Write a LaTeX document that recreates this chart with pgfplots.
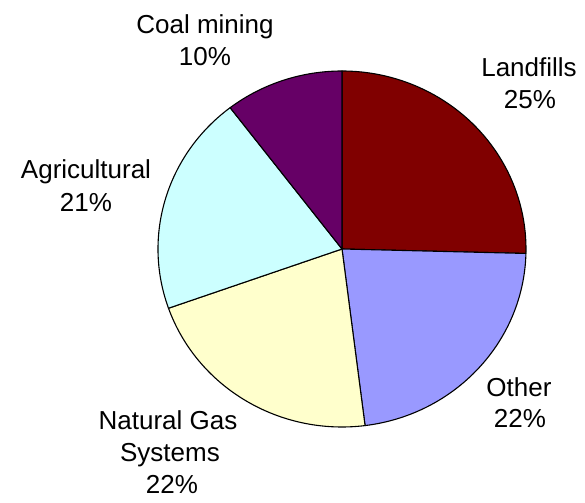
\documentclass[border=0pt]{standalone}
\usepackage{pgfplots}
\pgfplotsset{compat=1.18}
\usepackage{pgfplotstable}
\usepackage{fontspec}
\setmainfont{Liberation Sans}

\definecolor{slice0}{HTML}{800000}
\definecolor{slice1}{HTML}{9999FF}
\definecolor{slice2}{HTML}{FFFFCC}
\definecolor{slice3}{HTML}{CCFFFF}
\definecolor{slice4}{HTML}{660066}

\pgfplotstableread[col sep=comma]{
name,value
Landfills,25.4
Other,22.6
Natural Gas Systems,21.6
Agricultural,20.0
Coal mining,10.4
}\piedata

\begin{document}
\begin{tikzpicture}
\begin{axis}[
  hide axis, scale only axis,
  x=0.5pt, y=0.5pt,
  xmin=0, xmax=585, ymin=0, ymax=503,
  clip=false,
]
\path (axis cs:0,0) rectangle (axis cs:585,503);
\def\cumstart{90}
\pgfplotsforeachungrouped \i in {0,...,4}{%
  \pgfplotstablegetelem{\i}{value}\of\piedata
  \pgfmathsetmacro\angA{\cumstart}%
  \pgfmathsetmacro\angB{\cumstart-3.6*\pgfplotsretval}%
  \pgfmathsetmacro\sx{342+184*cos(\angA)}%
  \pgfmathsetmacro\sy{254+178*sin(\angA)}%
  \edef\temp{\noexpand\filldraw[fill=slice\i, draw=black, line width=0.55pt, line join=round]
    (axis cs:342,254) -- (axis cs:\sx,\sy)
    arc[start angle=\angA, end angle=\angB, x radius=92pt, y radius=89pt] -- cycle;}%
  \temp
  \global\let\cumstart\angB
}
\begin{scope}[every node/.style={anchor=base, inner sep=0pt, font=\fontsize{13}{16}\selectfont}]
\node at (axis cs:205,469) {Coal mining};
\node at (axis cs:205,437) {10\%};
\node at (axis cs:529,426) {Landfills};
\node at (axis cs:530,394) {25\%};
\node at (axis cs:86,324) {Agricultural};
\node at (axis cs:86,291) {21\%};
\node at (axis cs:519,106) {Other};
\node at (axis cs:520,75) {22\%};
\node at (axis cs:168,73) {Natural Gas};
\node at (axis cs:170,41) {Systems};
\node at (axis cs:172,9) {22\%};
\end{scope}
\end{axis}
\end{tikzpicture}
\end{document}
